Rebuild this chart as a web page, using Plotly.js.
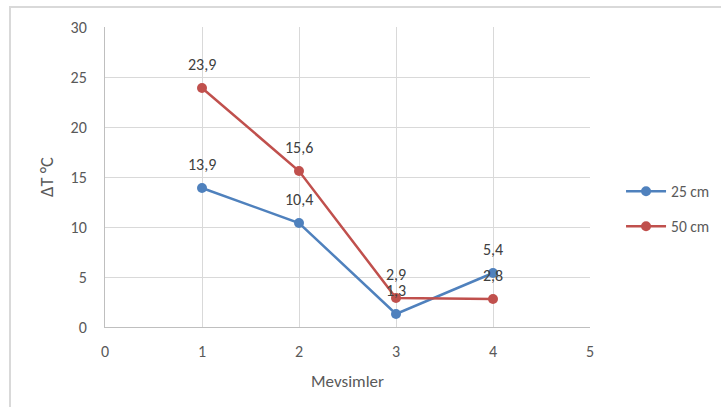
<!DOCTYPE html>
<html>
<head>
<meta charset="utf-8">
<script src="https://cdn.plot.ly/plotly-3.0.1.min.js"></script>
<style>
html,body{margin:0;padding:0;background:#fff;}
#wrap{position:relative;width:721px;height:407px;overflow:hidden;}
#chart{position:absolute;left:0;top:0;width:721px;height:407px;}
#frame{position:absolute;left:9px;top:6px;width:800px;height:500px;border:2px solid #d9d9d9;pointer-events:none;}
</style>
</head>
<body>
<div id="wrap"><div id="chart"></div><div id="frame"></div></div>
<script>
const seasons = [1, 2, 3, 4];
const series25 = [13.9, 10.4, 1.3, 5.4];
const series50 = [23.9, 15.6, 2.9, 2.8];
const seriesNames = ["25 cm", "50 cm"];
const xTicks = [0, 1, 2, 3, 4, 5];
const yTicks = [0, 5, 10, 15, 20, 25, 30];

const fontFam = "Carlito, Calibri, Lato, sans-serif";
const txtColor = "#595959";

function mk(name, ys, color) {
  return {
    x: seasons, y: ys, name: name, type: "scatter",
    mode: "lines+markers", legendgroup: name,
    line: {color: color, width: 2.5},
    marker: {color: color, size: 10},
    cliponaxis: false
  };
}

const data = [mk(seriesNames[0], series25, "#4f81bd"), mk(seriesNames[1], series50, "#c0504d")];

const annotations = [];
[series25, series50].forEach(ys => {
  ys.forEach((v, i) => {
    annotations.push({
      x: seasons[i], y: v, xref: "x", yref: "y",
      text: v.toFixed(1).replace(".", ","), showarrow: false,
      yanchor: "bottom", yshift: 12,
      font: {family: fontFam, size: 16, color: "#404040"}
    });
  });
});

const layout = {
  width: 721, height: 407,
  margin: {l: 105, r: 131, t: 27, b: 80, autoexpand: false},
  paper_bgcolor: "rgba(0,0,0,0)", plot_bgcolor: "#fff",
  separators: ",.",
  font: {family: fontFam, size: 15, color: txtColor},
  showlegend: true,
  annotations: annotations,
  legend: {x: 1.064, xanchor: "left", y: 0.393, yanchor: "middle",
           font: {family: fontFam, size: 15.5, color: txtColor},
           traceorder: "grouped", tracegroupgap: 12, itemwidth: 40},
  xaxis: {range: [0, 5], tickvals: xTicks, ticktext: xTicks.map(String),
          showgrid: true, gridcolor: "#d9d9d9", zeroline: false,
          showline: true, linecolor: "#bfbfbf", linewidth: 1, ticks: "", ticklen: 0,
          ticklabelstandoff: 10,
          tickfont: {size: 16, color: txtColor},
          title: {text: "Mevsimler", font: {size: 17, color: txtColor}, standoff: 14}},
  yaxis: {range: [0, 30], tickvals: yTicks, ticktext: yTicks.map(String),
          showgrid: true, gridcolor: "#d9d9d9", zeroline: false,
          showline: true, linecolor: "#bfbfbf", linewidth: 1, ticks: "", ticklen: 0,
          ticklabelstandoff: 14,
          tickfont: {size: 16, color: txtColor},
          title: {text: "ΔT °C", font: {size: 18.5, color: txtColor}, standoff: 12}}
};

Plotly.newPlot("chart", data, layout, {displayModeBar: false, staticPlot: true});
</script>
</body>
</html>
